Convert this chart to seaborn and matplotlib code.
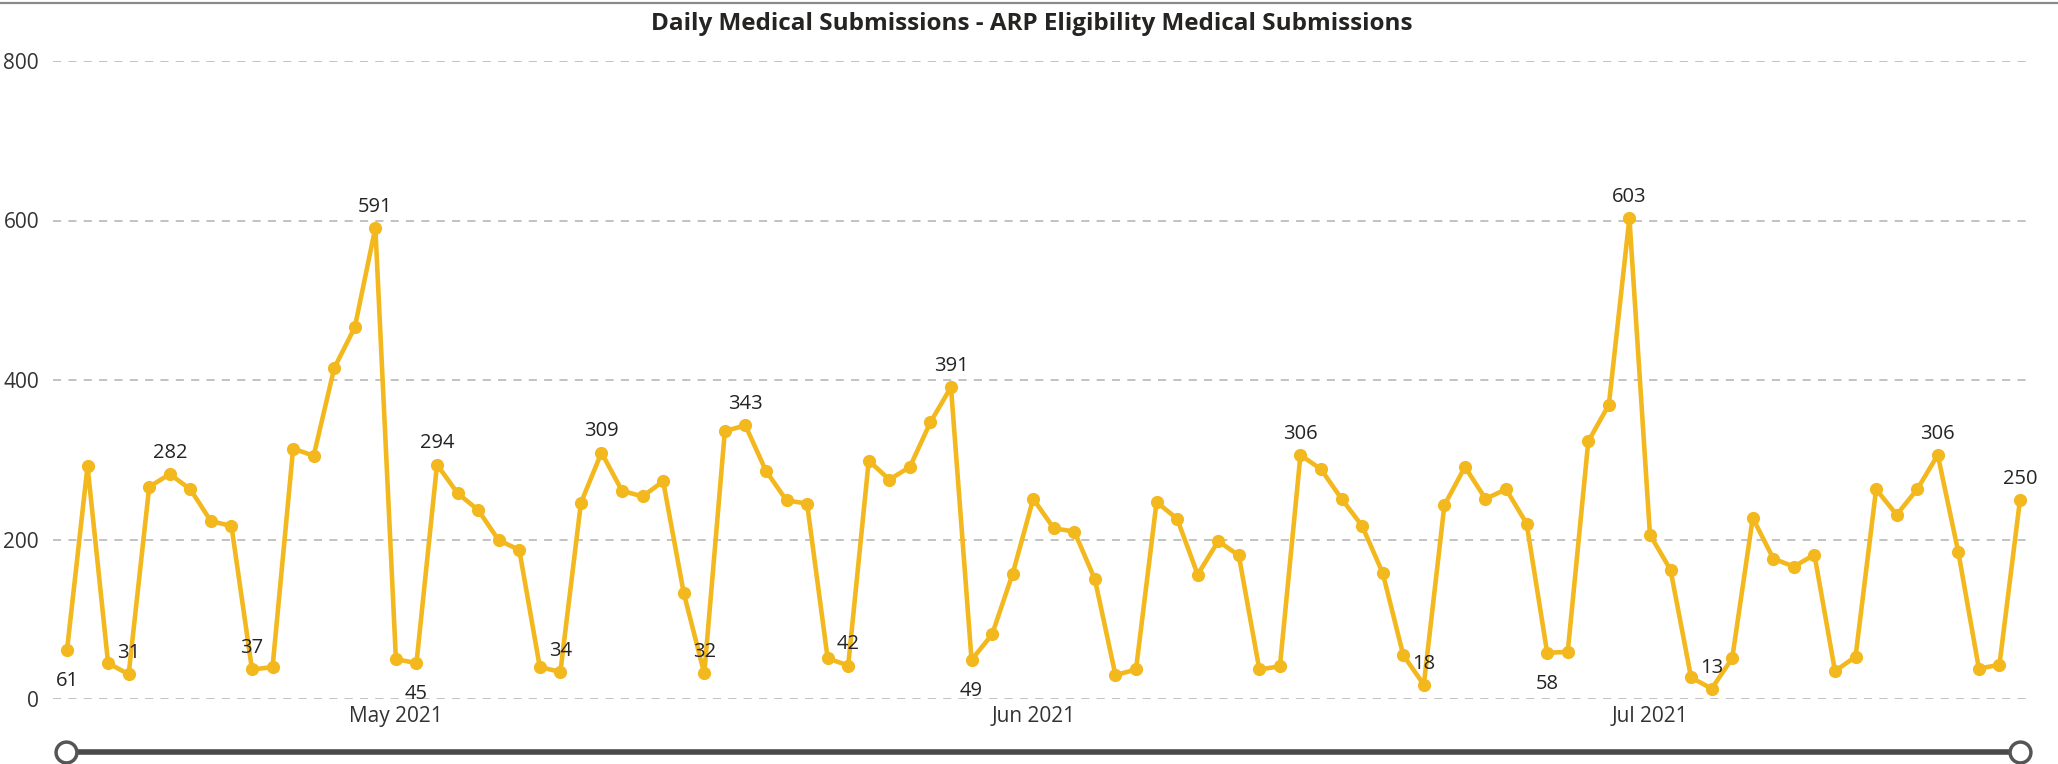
import matplotlib
matplotlib.use("Agg")
import matplotlib.pyplot as plt
import matplotlib.dates as mdates
from matplotlib.lines import Line2D
import pandas as pd
import seaborn as sns
import numpy as np

#daily medical submissions, 15 Apr 2021 - 19 Jul 2021
start_date = "2021-04-15"
april = [61, 292, 45, 31, 266, 282, 263, 223, 217, 37, 40, 314, 305, 415, 466, 591]
may = [50, 45, 294, 258, 237, 199, 187, 40, 34, 246, 309, 261, 254, 273, 133, 32,
       336, 343, 286, 249, 245, 51, 42, 299, 275, 291, 347, 391, 49, 81, 157]
june = [251, 214, 210, 150, 30, 37, 247, 226, 156, 198, 180, 37, 41, 306, 288, 251,
        217, 158, 55, 18, 243, 291, 251, 263, 220, 58, 59, 323, 369, 603]
july = [206, 162, 27, 13, 51, 227, 176, 166, 181, 35, 53, 263, 231, 263, 306, 184,
        38, 43, 250]

#days that get a value label, and whether the label sits under the point
label_days = ["2021-04-15", "2021-04-18", "2021-04-20", "2021-04-24", "2021-04-30",
              "2021-05-02", "2021-05-03", "2021-05-09", "2021-05-11", "2021-05-16",
              "2021-05-18", "2021-05-23", "2021-05-28", "2021-05-29", "2021-06-14",
              "2021-06-20", "2021-06-26", "2021-06-30", "2021-07-04", "2021-07-15",
              "2021-07-19"]
label_below = ["2021-04-15", "2021-05-02", "2021-05-29", "2021-06-26"]

y_ticks = [0, 200, 400, 600, 800]
month_ticks = ["2021-05-01", "2021-06-01", "2021-07-01"]

values = april + may + june + july
dates = pd.date_range(start_date, periods=len(values), freq="D")
df = pd.DataFrame({"Date": dates, "Submissions": values})

sns.set_style("white")
plt.rcParams['font.family'] = ['Open Sans', 'DejaVu Sans']

line_color = "#F2B81E"
text_color = "#252423"

fig = plt.figure(figsize=(20.58, 7.64), dpi=100)
ax = fig.add_axes([53/2058, 65/764, (2027-53)/2058, (699-61)/764])

sns.lineplot(data=df, x="Date", y="Submissions", ax=ax, color=line_color,
             linewidth=3.3, marker="o", markersize=9.5, markeredgewidth=0)

#value labels
for d in label_days:
	row = df[df["Date"] == pd.Timestamp(d)].iloc[0]
	if d in label_below:
		off = -15
		va = "top"
	else:
		off = 8
		va = "bottom"
	ax.annotate(str(row["Submissions"]), (row["Date"], row["Submissions"]),
	            xytext=(0, off), textcoords="offset points", ha="center", va=va,
	            fontsize=14.5, color=text_color)

ax.set_ylim(0, 800)
ax.set_yticks(y_ticks)
x0 = mdates.date2num(dates[0]) - 0.68
x1 = mdates.date2num(dates[-1]) + 0.34
ax.set_xlim(x0, x1)
ax.set_xticks([pd.Timestamp(m) for m in month_ticks])
ax.xaxis.set_major_formatter(mdates.DateFormatter("%b %Y"))

ax.grid(axis="y", color="#BDBDBD", linestyle=(0, (4.5, 4)), linewidth=1.3)
ax.grid(axis="x", visible=False)
ax.set_axisbelow(True)
for s in ax.spines.values():
	s.set_visible(False)
ax.tick_params(axis="both", length=0, labelsize=15, labelcolor="#333333")
ax.tick_params(axis="y", pad=10)
ax.tick_params(axis="x", pad=5)
ax.set_xlabel("")
ax.set_ylabel("")

fig.text(0.5015, 1 - 24/764, "Daily Medical Submissions - ARP Eligibility Medical Submissions",
         ha="center", va="center", fontsize=17.5, fontweight="bold", color=text_color)

#top border and the date range slider under the chart
fig.add_artist(Line2D([0, 1], [1 - 3/764, 1 - 3/764], color="#8A8A8A", linewidth=1.6))
sy = 1 - 752/764
fig.add_artist(Line2D([66/2058, 2020/2058], [sy, sy], color="#4A4A4A", linewidth=4))
for cx in [66/2058, 2020/2058]:
	fig.add_artist(Line2D([cx], [sy], marker="o", markersize=15, markerfacecolor="white",
	                      markeredgecolor="#555555", markeredgewidth=2.5, linestyle=""))

fig.savefig("out.png", dpi=100)
